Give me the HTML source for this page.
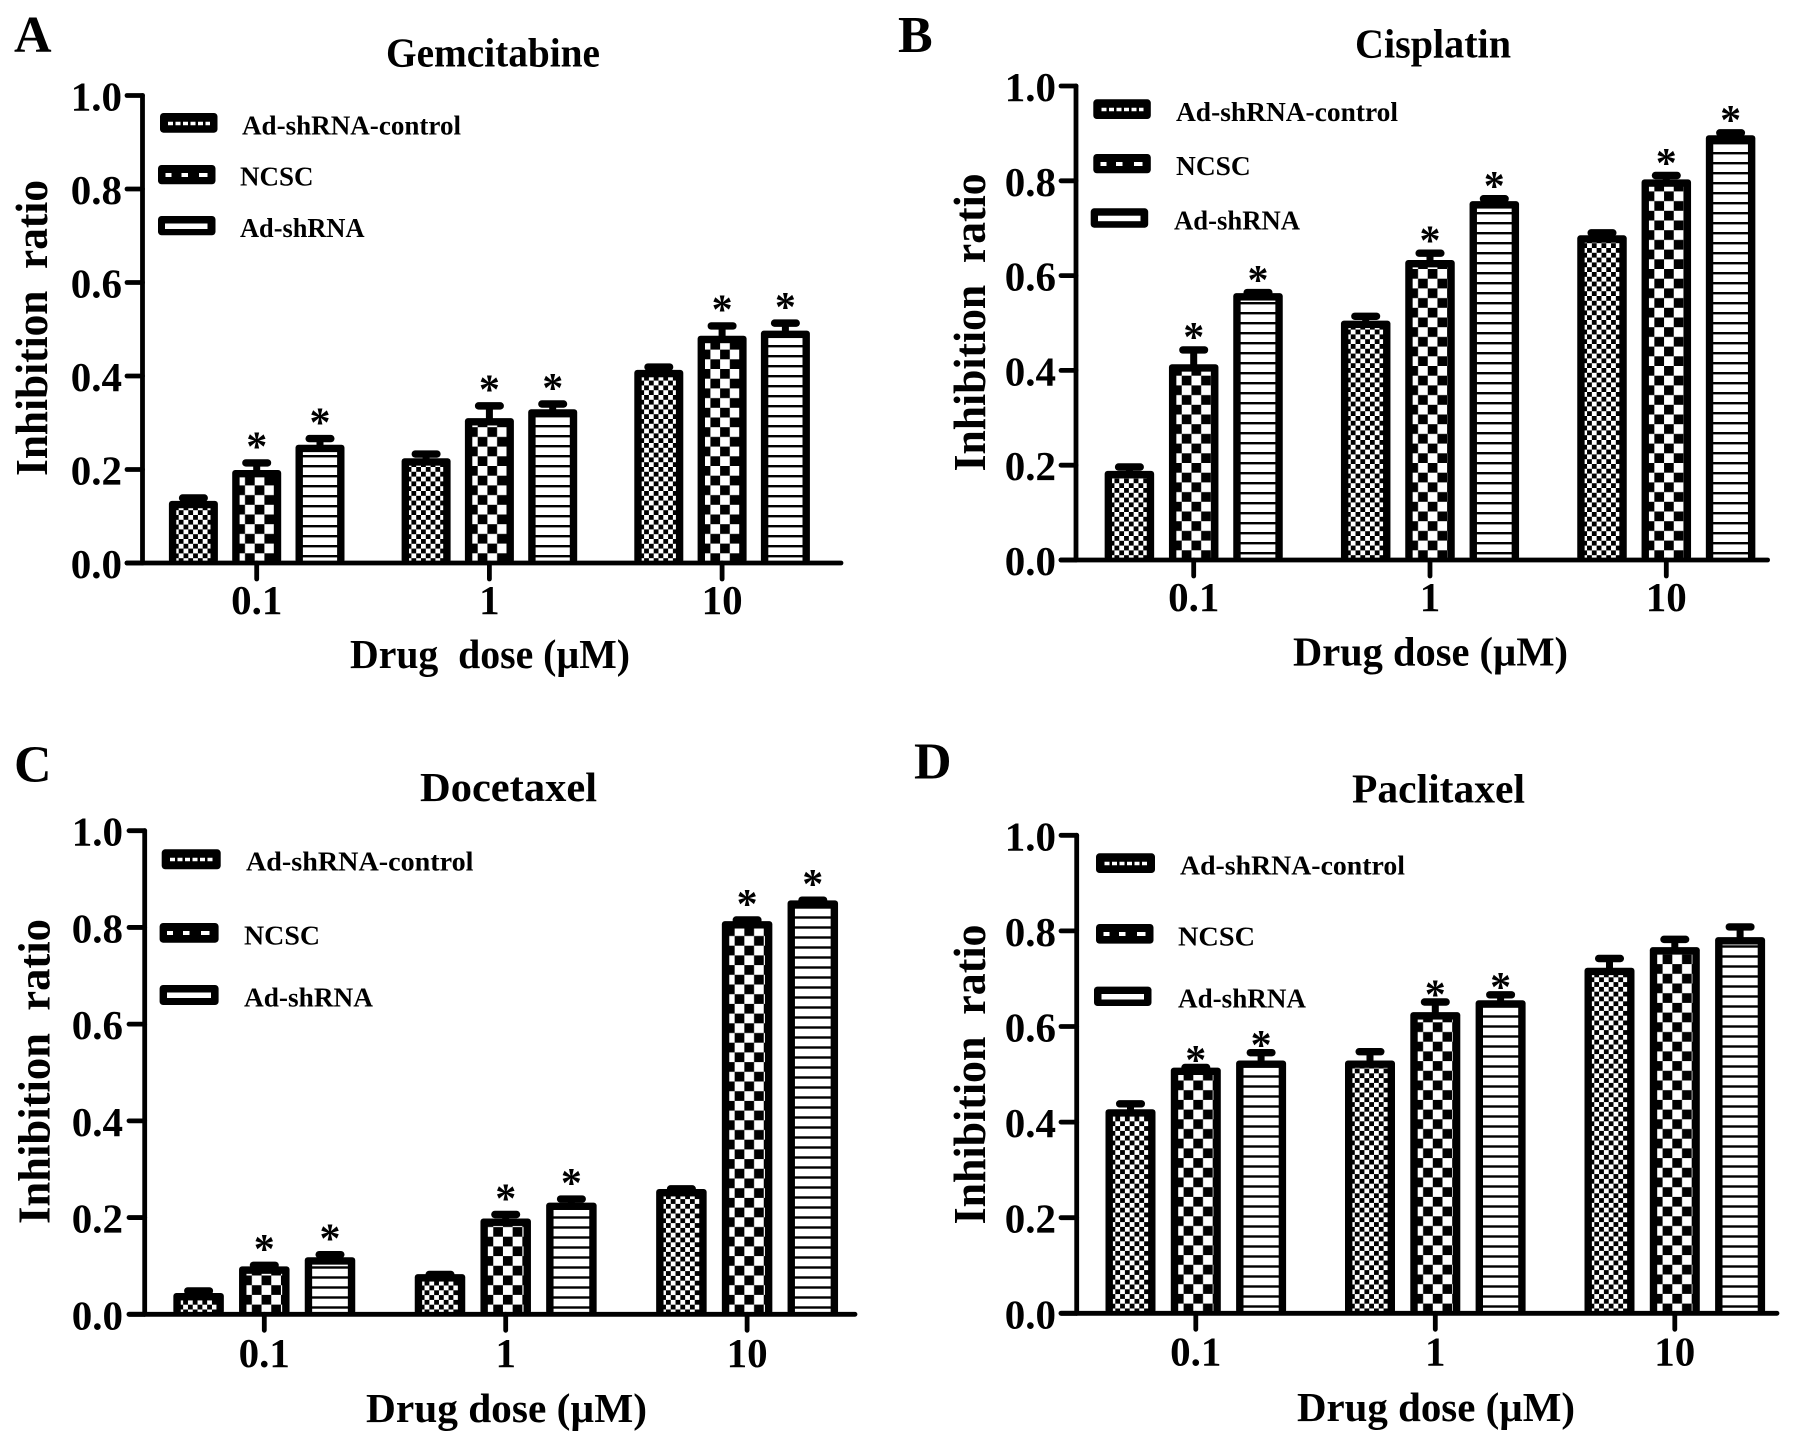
<!DOCTYPE html>
<html lang="en">
<head>
<meta charset="utf-8">
<title>Inhibition ratio by drug dose</title>
<style>
html,body{margin:0;padding:0;background:#fff;}
svg{display:block;}
text{font-family:"Liberation Serif",serif;font-weight:bold;fill:#000;}
.letter{font-size:52px;}
.title{font-size:41px;}
.axis-title{font-size:41px;}
.y-title{font-size:46px;}
.legend-text{font-size:27px;}
</style>
</head>
<body>
<svg id="figure" xmlns="http://www.w3.org/2000/svg" width="1795" height="1447" viewBox="0 0 1795 1447">
<rect width="1795" height="1447" fill="#fff"/>
<defs id="defs"></defs>

<g id="panel-a">
  <text class="letter" x="14" y="52">A</text>
  <text class="title" x="386" y="66.5" textLength="214" lengthAdjust="spacingAndGlyphs">Gemcitabine</text>
  <text class="y-title" transform="translate(47,328) rotate(-90)" text-anchor="middle" textLength="296" lengthAdjust="spacingAndGlyphs">Inhibition&#160;&#160;ratio</text>
  <text class="axis-title" x="350" y="668" textLength="280" lengthAdjust="spacingAndGlyphs">Drug&#160;&#160;dose (µM)</text>
  <g>
    <g>
      <rect x="160" y="113" width="57.5" height="19.7" rx="3.5" fill="#000"/>
      <line x1="168" x2="210" y1="123.5" y2="123.5" stroke="#fff" stroke-width="3.6" stroke-dasharray="5 2.5"/>
      <text class="legend-text" x="242" y="134.3" textLength="219" lengthAdjust="spacingAndGlyphs">Ad-shRNA-control</text>
    </g>
    <g>
      <rect x="158" y="165" width="57.5" height="19.3" rx="3.5" fill="#000"/>
      <path d="M165.500 173h6v4h-6zM181.500 173h6.500v4h-6.500zM199 173h8.500v4H199z" fill="#fff"/>
      <text class="legend-text" x="240" y="185.700" textLength="73.500" lengthAdjust="spacingAndGlyphs">NCSC</text>
    </g>
    <g>
      <rect x="158" y="216" width="57.5" height="19.3" rx="3.5" fill="#000"/>
      <rect x="165" y="223.500" width="42.500" height="5.500" fill="#fff"/>
      <text class="legend-text" x="240" y="237.200" textLength="124.500" lengthAdjust="spacingAndGlyphs">Ad-shRNA</text>
    </g>
  </g>
</g>

<g id="panel-b">
  <text class="letter" x="898" y="52">B</text>
  <text class="title" x="1355" y="57.500" textLength="156" lengthAdjust="spacingAndGlyphs">Cisplatin</text>
  <text class="y-title" transform="translate(985,322.500) rotate(-90)" text-anchor="middle" textLength="298" lengthAdjust="spacingAndGlyphs">Inhibition&#160;&#160;ratio</text>
  <text class="axis-title" x="1293" y="665.700" textLength="275" lengthAdjust="spacingAndGlyphs">Drug dose (µM)</text>
  <g>
    <g>
      <rect x="1093.300" y="99.300" width="57.500" height="19.700" rx="3.500" fill="#000"/>
      <line x1="1101.500" x2="1143.500" y1="109.500" y2="109.500" stroke="#fff" stroke-width="3.600" stroke-dasharray="5 2.500"/>
      <text class="legend-text" x="1176" y="121" textLength="222" lengthAdjust="spacingAndGlyphs">Ad-shRNA-control</text>
    </g>
    <g>
      <rect x="1093.300" y="154" width="57.500" height="19.300" rx="3.500" fill="#000"/>
      <path d="M1100.500 162h6v4h-6zM1116 162h6.500v4H1116zM1134 162h8.500v4H1134z" fill="#fff"/>
      <text class="legend-text" x="1176" y="175" textLength="74.700" lengthAdjust="spacingAndGlyphs">NCSC</text>
    </g>
    <g>
      <rect x="1090.700" y="208.300" width="57.500" height="19.400" rx="3.500" fill="#000"/>
      <rect x="1098" y="215.700" width="42.500" height="5.500" fill="#fff"/>
      <text class="legend-text" x="1174" y="229.500" textLength="126" lengthAdjust="spacingAndGlyphs">Ad-shRNA</text>
    </g>
  </g>
</g>

<g id="panel-c">
  <text class="letter" x="14" y="781.700">C</text>
  <text class="title" x="420" y="801" textLength="177" lengthAdjust="spacingAndGlyphs">Docetaxel</text>
  <text class="y-title" transform="translate(49.500,1071.500) rotate(-90)" text-anchor="middle" textLength="305" lengthAdjust="spacingAndGlyphs">Inhibition&#160;&#160;ratio</text>
  <text class="axis-title" x="366" y="1422" textLength="281" lengthAdjust="spacingAndGlyphs">Drug dose (µM)</text>
  <g>
    <g>
      <rect x="161.700" y="849.300" width="59" height="20" rx="3.500" fill="#000"/>
      <line x1="170" x2="213" y1="859.500" y2="859.500" stroke="#fff" stroke-width="3.600" stroke-dasharray="5 2.500"/>
      <text class="legend-text" x="246" y="870.700" textLength="227.500" lengthAdjust="spacingAndGlyphs">Ad-shRNA-control</text>
    </g>
    <g>
      <rect x="159.600" y="923" width="59" height="19.700" rx="3.500" fill="#000"/>
      <path d="M167 931h6v4h-6zM183 931h6.500v4H183zM201 931h8.500v4H201z" fill="#fff"/>
      <text class="legend-text" x="244" y="944.500" textLength="76" lengthAdjust="spacingAndGlyphs">NCSC</text>
    </g>
    <g>
      <rect x="159.600" y="985" width="59" height="20" rx="3.500" fill="#000"/>
      <rect x="167" y="992.500" width="44" height="5.500" fill="#fff"/>
      <text class="legend-text" x="244" y="1006.500" textLength="129" lengthAdjust="spacingAndGlyphs">Ad-shRNA</text>
    </g>
  </g>
</g>

<g id="panel-d">
  <text class="letter" x="914" y="778.300">D</text>
  <text class="title" x="1352" y="802.500" textLength="173" lengthAdjust="spacingAndGlyphs">Paclitaxel</text>
  <text class="y-title" transform="translate(985,1074.500) rotate(-90)" text-anchor="middle" textLength="300" lengthAdjust="spacingAndGlyphs">Inhibition&#160;&#160;ratio</text>
  <text class="axis-title" x="1297" y="1421" textLength="278" lengthAdjust="spacingAndGlyphs">Drug dose (µM)</text>
  <g>
    <g>
      <rect x="1096" y="853.300" width="59" height="19.700" rx="3.500" fill="#000"/>
      <line x1="1104.500" x2="1147" y1="863.500" y2="863.500" stroke="#fff" stroke-width="3.600" stroke-dasharray="5 2.500"/>
      <text class="legend-text" x="1180" y="874.400" textLength="225" lengthAdjust="spacingAndGlyphs">Ad-shRNA-control</text>
    </g>
    <g>
      <rect x="1096" y="924" width="57.500" height="19.600" rx="3.500" fill="#000"/>
      <path d="M1103.500 932h6v4h-6zM1119 932h6.500v4H1119zM1137 932h8.500v4H1137z" fill="#fff"/>
      <text class="legend-text" x="1178" y="945.300" textLength="77" lengthAdjust="spacingAndGlyphs">NCSC</text>
    </g>
    <g>
      <rect x="1094" y="986.600" width="57.500" height="19.400" rx="3.500" fill="#000"/>
      <rect x="1101.500" y="994" width="42.500" height="5.500" fill="#fff"/>
      <text class="legend-text" x="1178" y="1007.400" textLength="128" lengthAdjust="spacingAndGlyphs">Ad-shRNA</text>
    </g>
  </g>
</g>
</svg>

<script>
// Shared categories and axis labels
const doseLabels = ['0.1', '1', '10'];
const seriesKeys = ['control', 'ncsc', 'shrna'];
const yTickValues = [0, 0.2, 0.4, 0.6, 0.8, 1.0];
const yTickLabels = ['0.0', '0.2', '0.4', '0.6', '0.8', '1.0'];

// Gemcitabine
const gemControl = [0.133, 0.224, 0.413];
const gemNcsc = [0.199, 0.310, 0.486];
const gemShrna = [0.253, 0.329, 0.497];
const gemControlErr = [0.014, 0.017, 0.014];
const gemNcscErr = [0.023, 0.034, 0.029];
const gemShrnaErr = [0.021, 0.019, 0.024];
const gemSignificant = [true, true, true];

// Cisplatin
const cisControl = [0.188, 0.505, 0.685];
const cisNcsc = [0.413, 0.633, 0.803];
const cisShrna = [0.563, 0.757, 0.896];
const cisControlErr = [0.016, 0.017, 0.013];
const cisNcscErr = [0.038, 0.022, 0.016];
const cisShrnaErr = [0.009, 0.013, 0.013];
const cisSignificant = [true, true, true];

// Docetaxel
const docControl = [0.044, 0.083, 0.259];
const docNcsc = [0.099, 0.198, 0.813];
const docShrna = [0.118, 0.231, 0.856];
const docControlErr = [0.012, 0.007, 0.008];
const docNcscErr = [0.010, 0.016, 0.010];
const docShrnaErr = [0.013, 0.015, 0.008];
const docSignificant = [true, true, true];

// Paclitaxel
const pacControl = [0.427, 0.529, 0.723];
const pacNcsc = [0.514, 0.630, 0.766];
const pacShrna = [0.529, 0.655, 0.787];
const pacControlErr = [0.019, 0.026, 0.027];
const pacNcscErr = [0.008, 0.029, 0.024];
const pacShrnaErr = [0.024, 0.019, 0.029];
const pacSignificant = [true, true, false];

const NS = 'http://www.w3.org/2000/svg';
const defs = document.getElementById('defs');
let patternCount = 0;

function make(tag, attrs, parent) {
  const node = document.createElementNS(NS, tag);
  for (const key in attrs) node.setAttribute(key, attrs[key]);
  parent.appendChild(node);
  return node;
}

function checkPattern(left, base, cell, partial) {
  const id = 'fill-' + (patternCount++);
  const p = make('pattern', {
    id: id, patternUnits: 'userSpaceOnUse',
    x: left - cell + partial, y: base, width: cell * 2, height: cell * 2
  }, defs);
  make('rect', {x: 0, y: 0, width: cell * 2, height: cell * 2, fill: '#fff'}, p);
  make('rect', {x: 0, y: 0, width: cell, height: cell, fill: '#000'}, p);
  make('rect', {x: cell, y: cell, width: cell, height: cell, fill: '#000'}, p);
  return 'url(#' + id + ')';
}

function stripePattern(base) {
  const id = 'fill-' + (patternCount++);
  const p = make('pattern', {
    id: id, patternUnits: 'userSpaceOnUse', x: 0, y: base, width: 10, height: 10
  }, defs);
  make('rect', {x: 0, y: 0, width: 10, height: 10, fill: '#fff'}, p);
  make('rect', {x: 0, y: 2, width: 10, height: 2.4, fill: '#000'}, p);
  return 'url(#' + id + ')';
}

function drawPanel(panelId, cfg, values, errors, significant) {
  const root = document.getElementById(panelId);
  const yScale = v => cfg.base - v * (cfg.base - cfg.top);
  const groupCenter = g => cfg.first + g * cfg.groupStep;
  const barCenter = (g, s) => groupCenter(g) + (s - 1) * cfg.barStep;
  const stroke = 7.4;

  const marks = make('g', {}, root);
  
  

  values.forEach((series, s) => {
    series.forEach((value, g) => {
      const cx = barCenter(g, s);
      const left = cx - cfg.barW / 2;
      const yTop = yScale(value);
      const yErr = yScale(value + errors[s][g]);

      const stem = make('rect', {x: cx - 3.5, y: yErr + 2, width: 7, height: Math.max(yTop - yErr, 0) + 2, fill: '#000'}, marks);
      
      

      const cap = make('rect', {x: cx - 14.5, y: yErr, width: 29, height: 7.4, rx: 3.6, fill: '#000'}, marks);
      
      

      const bar = make('rect', {x: left, y: yTop, width: cfg.barW, height: cfg.base - yTop, rx: 3, fill: '#000'}, marks);
      
      

      const innerLeft = left + stroke;
      let fill;
      if (s === 0) fill = checkPattern(innerLeft, cfg.base, 4.8, 2.4);
      else if (s === 1) fill = checkPattern(innerLeft, cfg.base, 9.7, 5.4);
      else fill = stripePattern(cfg.base);
      const innerHeight = Math.max(cfg.base - yTop - stroke - 1, 0);
      const inner = make('rect', {x: innerLeft, y: yTop + stroke, width: cfg.barW - stroke * 2, height: innerHeight, fill: fill}, marks);
      
      

      if (s > 0 && significant[g]) {
        const star = make('text', {x: cx, y: yErr - cfg.starGap + 20, 'text-anchor': 'middle', 'font-size': 42}, marks);
        
        
        star.textContent = '*';
      }
    });
  });

  const axes = make('g', {stroke: '#000', 'stroke-linecap': 'round', fill: 'none'}, root);
  
  

  const yAxis = make('line', {x1: cfg.axisX, x2: cfg.axisX, y1: cfg.top, y2: cfg.base, 'stroke-width': 4.8}, axes);
  
  

  const xAxis = make('line', {x1: cfg.start, x2: cfg.end, y1: cfg.base, y2: cfg.base, 'stroke-width': 4.8}, axes);
  
  

  yTickValues.forEach((v, i) => {
    const y = yScale(v);
    const tick = make('line', {x1: cfg.start, x2: cfg.axisX, y1: y, y2: y, 'stroke-width': 4.8}, axes);
    
    

    const label = make('text', {x: cfg.yLabelRight, y: y + 15, 'text-anchor': 'end', 'font-size': 41}, root);
    
    
    label.textContent = yTickLabels[i];
  });

  doseLabels.forEach((name, g) => {
    const x = groupCenter(g);
    const tick = make('line', {x1: x, x2: x, y1: cfg.base, y2: cfg.base + 16, 'stroke-width': 4.8}, axes);
    
    

    const label = make('text', {x: x, y: cfg.xLabelY, 'text-anchor': 'middle', 'font-size': 41}, root);
    
    
    label.textContent = name;
  });
}

drawPanel('panel-a',
  {axisX: 142.5, top: 95.5, base: 563, start: 127, end: 841, first: 256.7, groupStep: 232.7, barStep: 63.3, barW: 49, yLabelRight: 122, xLabelY: 614, starGap: 18.5},
  [gemControl, gemNcsc, gemShrna], [gemControlErr, gemNcscErr, gemShrnaErr], gemSignificant);

drawPanel('panel-b',
  {axisX: 1076, top: 86, base: 560, start: 1061, end: 1767.6, first: 1193.7, groupStep: 236.3, barStep: 64.3, barW: 49.5, yLabelRight: 1056, xLabelY: 611, starGap: 15},
  [cisControl, cisNcsc, cisShrna], [cisControlErr, cisNcscErr, cisShrnaErr], cisSignificant);

drawPanel('panel-c',
  {axisX: 144.7, top: 830.7, base: 1314.3, start: 129, end: 855, first: 264.3, groupStep: 241.4, barStep: 65.7, barW: 50.5, yLabelRight: 123, xLabelY: 1367, starGap: 18.5},
  [docControl, docNcsc, docShrna], [docControlErr, docNcscErr, docShrnaErr], docSignificant);

drawPanel('panel-d',
  {axisX: 1076.7, top: 835.3, base: 1313.3, start: 1061, end: 1777, first: 1195.8, groupStep: 239.5, barStep: 65.3, barW: 50, yLabelRight: 1056, xLabelY: 1365.7, starGap: 10},
  [pacControl, pacNcsc, pacShrna], [pacControlErr, pacNcscErr, pacShrnaErr], pacSignificant);
</script>
</body>
</html>
